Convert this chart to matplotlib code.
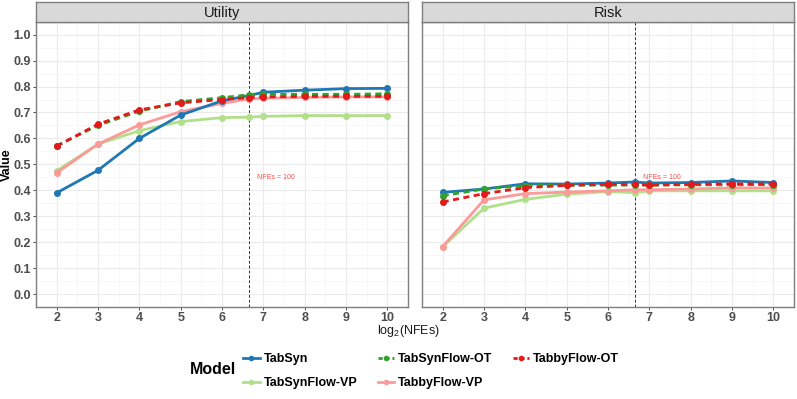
import numpy as np
import matplotlib.pyplot as plt
from matplotlib.lines import Line2D

# data: log2(NFEs) steps, incl. the NFEs=100 point
steps = [2, 3, 4, 5, 6, np.log2(100), 7, 8, 9, 10]
models = ["TabSyn", "TabSynFlow-VP", "TabSynFlow-OT", "TabbyFlow-VP", "TabbyFlow-OT"]

utility = {
    "TabSyn":        [0.390, 0.477, 0.600, 0.690, 0.745, 0.765, 0.778, 0.786, 0.792, 0.793],
    "TabSynFlow-OT": [0.572, 0.650, 0.705, 0.742, 0.757, 0.768, 0.770, 0.770, 0.770, 0.772],
    "TabbyFlow-OT":  [0.570, 0.655, 0.710, 0.737, 0.750, 0.757, 0.760, 0.762, 0.762, 0.762],
    "TabSynFlow-VP": [0.475, 0.578, 0.630, 0.665, 0.680, 0.682, 0.685, 0.688, 0.688, 0.688],
    "TabbyFlow-VP":  [0.467, 0.578, 0.652, 0.703, 0.735, 0.752, 0.755, 0.758, 0.760, 0.760],
}
risk = {
    "TabSyn":        [0.392, 0.405, 0.425, 0.424, 0.428, 0.432, 0.428, 0.430, 0.436, 0.430],
    "TabSynFlow-OT": [0.379, 0.405, 0.418, 0.420, 0.420, 0.420, 0.420, 0.421, 0.421, 0.422],
    "TabbyFlow-OT":  [0.355, 0.387, 0.410, 0.419, 0.423, 0.423, 0.420, 0.423, 0.425, 0.424],
    "TabSynFlow-VP": [0.182, 0.331, 0.365, 0.385, 0.395, 0.391, 0.398, 0.398, 0.398, 0.398],
    "TabbyFlow-VP":  [0.183, 0.363, 0.387, 0.393, 0.398, 0.402, 0.402, 0.405, 0.409, 0.409],
}

colors = {"TabSyn": "#1f78b4", "TabSynFlow-OT": "#33a02c", "TabbyFlow-OT": "#e31a1c",
          "TabSynFlow-VP": "#b2df8a", "TabbyFlow-VP": "#fb9a99"}
dashed = {"TabSynFlow-OT", "TabbyFlow-OT"}
draw_order = ["TabSynFlow-VP", "TabbyFlow-VP", "TabSyn", "TabSynFlow-OT", "TabbyFlow-OT"]

plt.rcParams['font.family'] = ['Liberation Sans', 'DejaVu Sans']
plt.rcParams['mathtext.fontset'] = 'custom'
plt.rcParams['mathtext.rm'] = 'Liberation Sans'

W, H = 797, 399
fig = plt.figure(figsize=(W / 100, H / 100), dpi=100)

def px(x0, y0, x1, y1):
    return [x0 / W, 1 - y1 / H, (x1 - x0) / W, (y1 - y0) / H]

panels = [("Utility", utility, 36, 408), ("Risk", risk, 422, 794)]
for i, (title, data, x0, x1) in enumerate(panels):
    ax = fig.add_axes(px(x0, 21.7, x1, 307))
    ax.set_xlim(1.6, 10.4)
    ax.set_ylim(-0.05, 1.05)
    ax.set_xticks(range(2, 11))
    ax.set_xticks(np.arange(1.5, 10.6, 1), minor=True)
    ax.set_yticks(np.arange(0, 1.01, 0.1))
    ax.set_yticks(np.arange(-0.05, 1.06, 0.1), minor=True)
    ax.grid(which='major', color='#ebebeb', lw=0.8)
    ax.grid(which='minor', color='#f4f4f4', lw=0.5)
    ax.set_axisbelow(True)
    for s in ax.spines.values():
        s.set_color('#7f7f7f')
        s.set_linewidth(1.0)
    ax.tick_params(which='both', length=0)
    ax.tick_params(which='major', length=2.0, color='#333333', width=0.6,
                   labelsize=9, labelcolor='#4d4d4d', pad=1.5)
    for lab in ax.get_xticklabels() + ax.get_yticklabels():
        lab.set_fontweight('bold')
    if i == 1:
        ax.set_yticklabels([])
        ax.tick_params(axis='y', length=0)
    else:
        ax.set_yticklabels([f"{v:.1f}" for v in np.arange(0, 1.01, 0.1)])
        for lab in ax.get_yticklabels():
            lab.set_fontweight('bold')

    for m in draw_order:
        ax.plot(steps, data[m], color=colors[m], lw=2.0,
                ls=(0, (2.2, 1.6)) if m in dashed else '-',
                marker='o', ms=4, zorder=3)
    ax.axvline(np.log2(100), color='#333333', lw=0.7, ls=(0, (3, 2)), zorder=2)
    ax.text(7.3, 0.45, "NFEs = 100", color='#ff4d4d', fontsize=5, ha='center', va='center')

    # facet strip
    sax = fig.add_axes(px(x0, 2, x1, 21.7))
    sax.set_facecolor('#d9d9d9')
    sax.set_xticks([])
    sax.set_yticks([])
    for s in sax.spines.values():
        s.set_color('#7f7f7f')
        s.set_linewidth(1.0)
    sax.text(0.5, 0.45, title, transform=sax.transAxes, ha='center', va='center',
             fontsize=10.5, color='#1a1a1a')

fig.text(7 / W, 1 - 165 / H, "Value", rotation=90, ha='center', va='center',
         fontsize=9, fontweight='bold')
fig.text(408 / W, 1 - 331 / H, r"log$_2$(NFEs)", ha='center', va='center', fontsize=9,
         color='#1a1a1a')

handles = [Line2D([], [], color=colors[m], lw=2.0,
                  ls=(0, (1.5, 1)) if m in dashed else '-', marker='o', ms=3)
           for m in models]
leg = fig.legend(handles, models, loc='center left', bbox_to_anchor=(232 / W, 1 - 371 / H),
                 ncol=3, frameon=False, handlelength=1.3, handletextpad=0.35,
                 columnspacing=1.6, labelspacing=0.95,
                 prop={'weight': 'bold', 'size': 9})
fig.text(213 / W, 1 - 370 / H, "Model", ha='center', va='center', fontsize=11.5,
         fontweight='bold')

fig.savefig("out.png", dpi=100)
